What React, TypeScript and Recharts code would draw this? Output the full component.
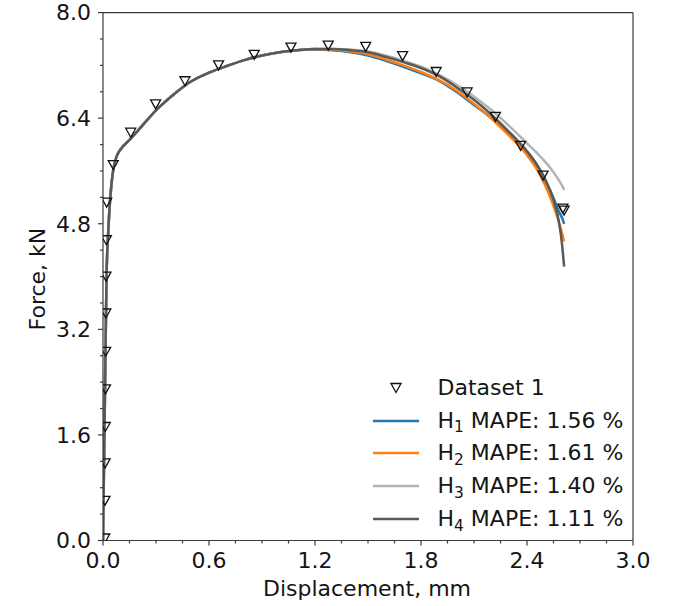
import React from "react";
import {
  ComposedChart,
  Line,
  Scatter,
  XAxis,
  YAxis,
  ReferenceLine,
  Legend,
} from "recharts";

// displacement grid shared by the fitted curves (mm)
const xGrid = [
  0, 0.01, 0.02, 0.03, 0.04, 0.05, 0.06, 0.08, 0.1, 0.15, 0.2, 0.3, 0.4, 0.5,
  0.6, 0.7, 0.8, 0.9, 1.0, 1.1, 1.2, 1.3, 1.4, 1.5, 1.6, 1.7, 1.8, 1.9, 2.0,
  2.1, 2.2, 2.3, 2.4, 2.45, 2.5, 2.55, 2.58, 2.6, 2.61,
];

// fitted force curves (kN)
const h1Force = [
  0, 2.0, 4.0, 4.7, 5.15, 5.45, 5.65, 5.84, 5.93, 6.07, 6.22, 6.52, 6.76, 6.96,
  7.09, 7.19, 7.28, 7.35, 7.4, 7.43, 7.44, 7.43, 7.4, 7.35, 7.27, 7.18, 7.08,
  6.97, 6.8, 6.6, 6.4, 6.15, 5.87, 5.71, 5.47, 5.19, 4.99, 4.88, 4.8,
];
const h2Force = [
  0, 2.0, 4.0, 4.7, 5.15, 5.45, 5.65, 5.84, 5.93, 6.07, 6.22, 6.52, 6.76, 6.96,
  7.09, 7.19, 7.28, 7.35, 7.4, 7.43, 7.45, 7.44, 7.41, 7.37, 7.29, 7.2, 7.1,
  6.98, 6.82, 6.62, 6.39, 6.13, 5.84, 5.65, 5.4, 5.07, 4.83, 4.64, 4.53,
];
const h3Force = [
  0, 2.0, 4.0, 4.7, 5.15, 5.45, 5.65, 5.84, 5.93, 6.07, 6.22, 6.52, 6.76, 6.96,
  7.09, 7.19, 7.28, 7.35, 7.4, 7.43, 7.45, 7.45, 7.44, 7.41, 7.35, 7.27, 7.18,
  7.06, 6.91, 6.73, 6.52, 6.28, 6.02, 5.89, 5.75, 5.58, 5.46, 5.37, 5.31,
];
const h4Force = [
  0, 2.0, 4.0, 4.7, 5.15, 5.45, 5.65, 5.84, 5.93, 6.07, 6.22, 6.52, 6.76, 6.96,
  7.09, 7.19, 7.28, 7.35, 7.4, 7.43, 7.45, 7.45, 7.43, 7.4, 7.33, 7.25, 7.16,
  7.04, 6.87, 6.68, 6.45, 6.19, 5.9, 5.72, 5.49, 5.16, 4.84, 4.45, 4.15,
];

// measured points (Dataset 1)
const dataDisp = [
  0.01, 0.011, 0.012, 0.013, 0.014, 0.015, 0.016, 0.017, 0.019, 0.021, 0.058,
  0.157, 0.298, 0.464, 0.654, 0.856, 1.064, 1.275, 1.487, 1.696, 1.886, 2.061,
  2.221, 2.364, 2.491, 2.603, 2.61,
];
const dataForce = [
  0.03, 0.6, 1.17, 1.72, 2.29, 2.86, 3.44, 4.0, 4.55, 5.12, 5.69, 6.18, 6.61,
  6.96, 7.2, 7.36, 7.47, 7.5, 7.48, 7.34, 7.1, 6.79, 6.42, 5.98, 5.53, 5.03,
  5.0,
];

const xMajorTicks = [0, 0.6, 1.2, 1.8, 2.4, 3.0];
const xMinorTicks = [0.15, 0.3, 0.45, 0.75, 0.9, 1.05, 1.35, 1.5, 1.65, 1.95, 2.1, 2.25, 2.55, 2.7, 2.85];
const yMajorTicks = [0, 1.6, 3.2, 4.8, 6.4, 8.0];
const yMinorTicks = [0.4, 0.8, 1.2, 2.0, 2.4, 2.8, 3.6, 4.0, 4.4, 5.2, 5.6, 6.0, 6.8, 7.2, 7.6];

const series = [
  { name: "1", label: "MAPE: 1.56 %", color: "#1f77b4", values: h1Force },
  { name: "2", label: "MAPE: 1.61 %", color: "#ff7f0e", values: h2Force },
  { name: "3", label: "MAPE: 1.40 %", color: "#b4b4b4", values: h3Force },
  { name: "4", label: "MAPE: 1.11 %", color: "#595959", values: h4Force },
];

const FONT = "'DejaVu Sans', sans-serif";
const AXIS = "#3a3a3a";
const TEXT = "#151515";

const dataset = dataDisp.map((d, i) => ({ disp: d, force: dataForce[i] }));

const XTick = (props: any) => {
  const { x, y, payload } = props;
  const major = xMajorTicks.includes(payload.value);
  return (
    <g>
      <line x1={x} y1={y} x2={x} y2={y + (major ? 5 : 3)} stroke={AXIS} strokeWidth={1.2} />
      {major && (
        <text x={x} y={y + 12} dy="0.71em" textAnchor="middle" fontSize={22} fontFamily={FONT} fill={TEXT}>
          {payload.value.toFixed(1)}
        </text>
      )}
    </g>
  );
};

const YTick = (props: any) => {
  const { x, y, payload } = props;
  const major = yMajorTicks.includes(payload.value);
  return (
    <g>
      <line x1={x} y1={y} x2={x - (major ? 5 : 3)} y2={y} stroke={AXIS} strokeWidth={1.2} />
      {major && (
        <text x={x - 12} y={y} dy="0.355em" textAnchor="end" fontSize={22} fontFamily={FONT} fill={TEXT}>
          {payload.value.toFixed(1)}
        </text>
      )}
    </g>
  );
};

const triangle = (cx: number, cy: number) =>
  `M${cx - 5},${cy - 4.5} L${cx + 5},${cy - 4.5} L${cx},${cy + 4.5} Z`;

const TriangleShape = (props: any) => {
  const { cx, cy } = props;
  if (cx == null || cy == null) return <g />;
  return <path d={triangle(cx, cy)} fill="none" stroke="#111" strokeWidth={1.3} />;
};

const renderLegend = () => (
  <div style={{ fontFamily: FONT, fontSize: 22, color: TEXT }}>
    <div style={{ display: "flex", alignItems: "center", height: 32.8 }}>
      <svg width={46} height={20}>
        <path d={triangle(23, 10)} fill="none" stroke="#111" strokeWidth={1.3} />
      </svg>
      <span style={{ marginLeft: 18.5, lineHeight: 1 }}>Dataset 1</span>
    </div>
    {series.map((s) => (
      <div key={s.name} style={{ display: "flex", alignItems: "center", height: 32.8 }}>
        <svg width={46} height={20}>
          <line x1={0} y1={10} x2={46} y2={10} stroke={s.color} strokeWidth={2.6} />
        </svg>
        <span style={{ marginLeft: 18.5, lineHeight: 1, whiteSpace: "nowrap" }}>
          H
          <span style={{ fontSize: "70%", position: "relative", top: "0.3em" }}>{s.name}</span> {s.label}
        </span>
      </div>
    ))}
  </div>
);

export default function App() {
  return (
    <div
      style={{
        position: "absolute",
        left: 0,
        top: 0,
        width: 674,
        height: 606,
        background: "#fff",
        fontFamily: FONT,
      }}
    >
      <ComposedChart width={674} height={606} margin={{ top: 12.6, right: 41, bottom: 5.5, left: 43 }}>
        <XAxis
          dataKey="disp"
          type="number"
          domain={[0, 3]}
          ticks={[...xMajorTicks, ...xMinorTicks].sort((a, b) => a - b)}
          interval={0}
          allowDataOverflow
          height={60}
          tickSize={0}
          tickMargin={0}
          tickLine={false}
          tick={<XTick />}
          axisLine={{ stroke: AXIS, strokeWidth: 1.2 }}
          label={{
            content: (p: any) => {
              const vb = p.viewBox;
              return (
                <text x={vb.x + vb.width / 2 - 1} y={vb.y + 55.5} textAnchor="middle" fontSize={22} fontFamily={FONT} fill={TEXT}>
                  Displacement, mm
                </text>
              );
            },
          }}
        />
        <YAxis
          type="number"
          domain={[0, 8]}
          ticks={[...yMajorTicks, ...yMinorTicks].sort((a, b) => a - b)}
          interval={0}
          allowDataOverflow
          width={60}
          tickSize={0}
          tickMargin={0}
          tickLine={false}
          tick={<YTick />}
          axisLine={{ stroke: AXIS, strokeWidth: 1.2 }}
          label={{
            content: (p: any) => {
              const vb = p.viewBox;
              const lx = vb.x + vb.width - 58;
              const ly = vb.y + vb.height / 2 + 2.5;
              return (
                <text x={lx} y={ly} transform={`rotate(-90 ${lx} ${ly})`} textAnchor="middle" fontSize={22} fontFamily={FONT} fill={TEXT}>
                  Force, kN
                </text>
              );
            },
          }}
        />
        <ReferenceLine y={8} stroke={AXIS} strokeWidth={1.2} />
        <ReferenceLine x={3} stroke={AXIS} strokeWidth={1.2} />
        {series.map((s) => (
          <Line
            key={s.name}
            data={xGrid.map((d, i) => ({ disp: d, force: s.values[i] }))}
            dataKey="force"
            type="monotone"
            stroke={s.color}
            strokeWidth={2.5}
            dot={false}
            activeDot={false}
            isAnimationActive={false}
          />
        ))}
        <Scatter data={dataset} dataKey="force" shape={<TriangleShape />} isAnimationActive={false} />
        <Legend
          layout="vertical"
          align="center"
          verticalAlign="middle"
          content={renderLegend}
          wrapperStyle={{ left: 373, top: 371.5, width: 290, height: 165 }}
        />
      </ComposedChart>
    </div>
  );
}
